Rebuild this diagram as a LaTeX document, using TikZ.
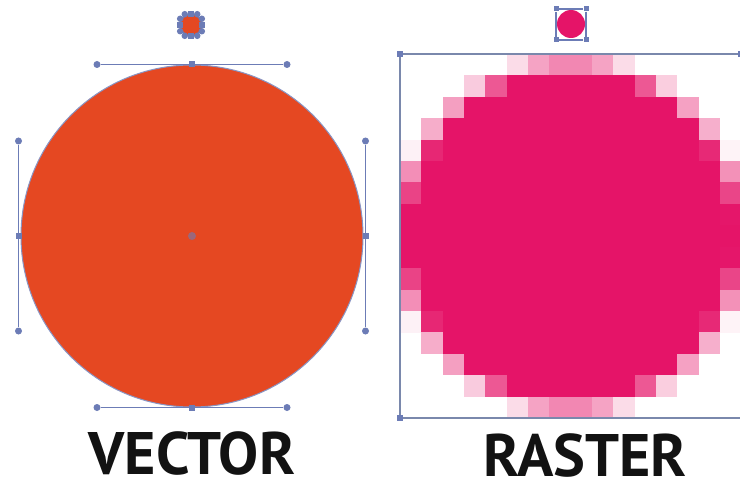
\documentclass[tikz,border=0pt]{standalone}
\usepackage{fontspec}
\setmainfont{PT Sans}
\usetikzlibrary{positioning}
\definecolor{vecred}{RGB}{229,72,34}
\definecolor{raspink}{RGB}{229,20,104}
\definecolor{selblue}{RGB}{108,124,182}
\definecolor{boxgray}{RGB}{122,136,172}

\begin{document}
\begin{tikzpicture}[x=1pt,y=-1pt,
  knob/.style={circle,fill=selblue,inner sep=0pt,minimum size=7pt},
  grip/.style={rectangle,fill=selblue,inner sep=0pt,minimum size=6pt},
  arm/.style={draw=selblue,line width=1.6pt},
  boxline/.style={draw=boxgray,line width=1.4pt},
  bigword/.style={font=\bfseries\fontsize{60}{60}\selectfont,text=black!93,inner sep=0pt}]
\useasboundingbox[fill=white] (0,0) rectangle (740,495);

% vector side
\node[circle,fill=vecred,draw=selblue!80,line width=1pt,minimum size=342pt,inner sep=0pt] (vcirc) at (192,236) {};
\node[circle,fill=selblue!60!vecred,inner sep=0pt,minimum size=8pt] (vmid) at (vcirc.center) {};
\node[grip] (vtop) at (vcirc.north) {};
\node[grip] (vbot) at (vcirc.south) {};
\node[grip] (vlft) at ([xshift=-2pt]vcirc.west) {};
\node[grip] (vrgt) at ([xshift=2pt]vcirc.east) {};
\node[knob] (vtopl) at ([xshift=-95pt]vtop) {};
\node[knob] (vtopr) at ([xshift=95pt]vtop) {};
\node[knob] (vbotl) at ([xshift=-95pt]vbot) {};
\node[knob] (vbotr) at ([xshift=95pt]vbot) {};
\node[knob] (vlftu) at ([yshift=95pt]vlft) {};
\node[knob] (vlftd) at ([yshift=-95pt]vlft) {};
\node[knob] (vrgtu) at ([yshift=95pt]vrgt) {};
\node[knob] (vrgtd) at ([yshift=-95pt]vrgt) {};
\draw[arm] (vtopl) -- (vtop) -- (vtopr);
\draw[arm] (vbotl) -- (vbot) -- (vbotr);
\draw[arm] (vlftu) -- (vlft) -- (vlftd);
\draw[arm] (vrgtu) -- (vrgt) -- (vrgtd);

% small vector icon
\node[circle,fill=vecred,draw=selblue,line width=1.5pt,minimum size=22pt,inner sep=0pt] (vicon) at (191,25) {};
\foreach \a in {0,90,180,270}
  \node[rectangle,fill=selblue,inner sep=0pt,minimum size=6pt] (vi\a) at ([shift={(\a:11pt)}]vicon.center) {};
\foreach \a in {30,60,120,150,210,240,300,330}
  \node[circle,fill=selblue,inner sep=0pt,minimum size=6.5pt] (vk\a) at ([shift={(\a:12.5pt)}]vicon.center) {};

% raster side
\foreach \i in {0,...,15} {
  \foreach \j in {0,...,16} {
    \pgfmathsetmacro\cx{400+21.33*(\i+0.5)}
    \pgfmathsetmacro\cy{54+21.41*(\j+0.5)}
    \pgfmathsetmacro\dd{veclen(\cx-570.5,\cy-236)}
    \pgfmathtruncatemacro\pct{max(0,min(100,100*(0.5+(172-\dd)/21.33)))}
    \ifnum\pct>0
      \fill[raspink!\pct!white] (400+21.33*\i,54+21.41*\j) rectangle ++(21.53,21.61);
    \fi
  }
}
\node[grip] (rtl) at (400,54) {};
\node[grip] (rbl) at (400,418) {};
\node[grip] (rtr) at (741,54) {};
\coordinate (rbr) at (741,418);
\draw[boxline] (rtr) -- (rtl) -- (rbl) -- (rbr);

% small raster icon
\node[circle,fill=raspink,minimum size=28pt,inner sep=0pt] (ricon) at (571,24) {};
\node[grip,minimum size=5pt] (ri1) at (556,9) {};
\node[grip,minimum size=5pt] (ri2) at (586,9) {};
\node[grip,minimum size=5pt] (ri3) at (586,40) {};
\node[grip,minimum size=5pt] (ri4) at (556,40) {};
\draw[draw=selblue,line width=1.1pt] (ri1) -- (ri2) -- (ri3) -- (ri4) -- (ri1);

% captions
\node[bigword,below=24pt of vcirc] (vword) {VECTOR};
\node[bigword] (rword) at (585,455) {RASTER};
\end{tikzpicture}
\end{document}
